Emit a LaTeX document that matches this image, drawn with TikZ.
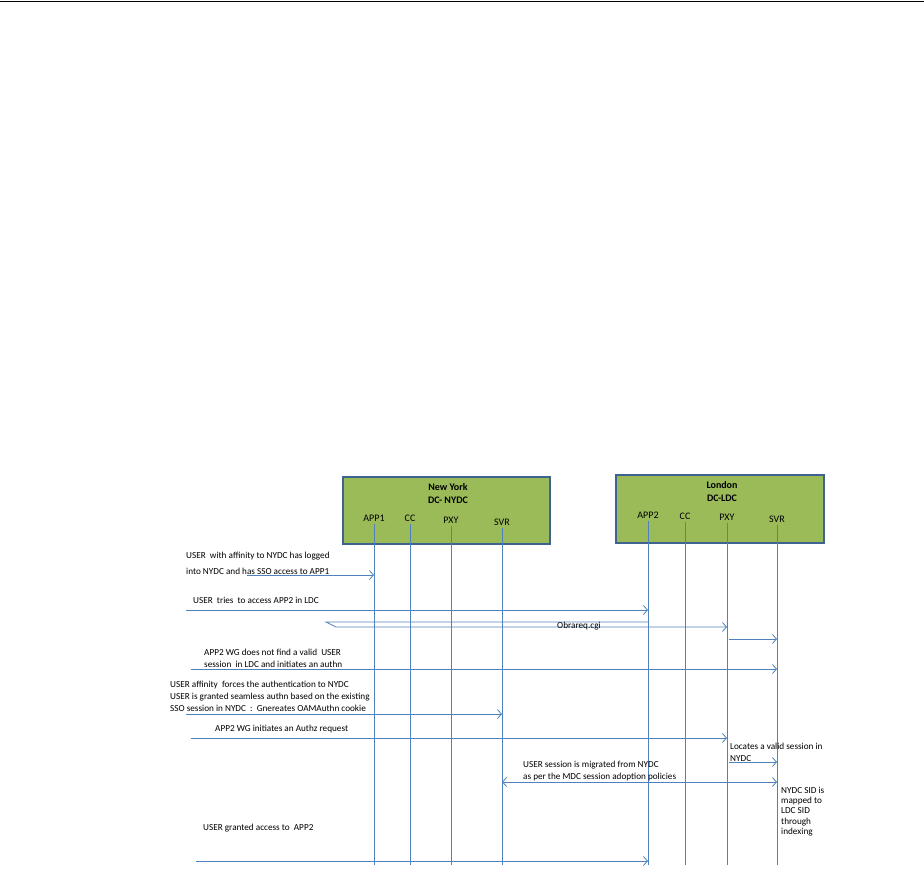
\documentclass[tikz,border=0pt]{standalone}
\usepackage{fontspec}
\setmainfont{Carlito}
\usepackage{tikz}
\usetikzlibrary{arrows.meta,positioning}
\definecolor{flowBlue}{HTML}{4F81BD}
\definecolor{siteGreen}{HTML}{9BBB59}
\definecolor{siteBorder}{HTML}{3F6390}

\begin{document}
\begin{tikzpicture}[x=1pt,y=-1pt,
    note/.style={anchor=west, align=left, inner sep=0pt, font=\fontsize{9.2}{12}\selectfont},
    msg/.style={draw=flowBlue, line width=0.8pt, -{Straight Barb[length=4pt,width=9pt]}},
    life/.style={draw=flowBlue, line width=0.8pt},
    site/.style={draw=siteBorder, line width=1.8pt, fill=siteGreen},
    comp/.style={inner sep=2.5pt, font=\fontsize{10}{12}\selectfont}]
                \useasboundingbox (0,0) rectangle (924,874);
                % page rule
                \coordinate (ruleL) at (0,1.5);
                \coordinate (ruleR) at (924,1.5);
                \draw[line width=1.3pt] (ruleL) -- (ruleR);
                % data centres
                \node[site, minimum width=207pt, minimum height=67pt] (nyBox) at (446.5,510.5) {};
                \node[site, minimum width=208pt, minimum height=68pt] (ldnBox) at (720,509) {};
                \node[font=\bfseries\fontsize{10}{13}\selectfont, align=center] (nyTitle) at (448,493.5) {New York\\DC- NYDC};
                \node[font=\bfseries\fontsize{10}{13}\selectfont, align=center] (ldnTitle) at (722,491.5) {London\\DC-LDC};
                \node[comp] (app1) at (374,518) {APP1};
                \node[comp] (ccN) at (410,518) {CC};
                \node[comp] (pxyN) at (451,520) {PXY};
                \node[comp] (svrN) at (502,522) {SVR};
                \node[comp] (app2) at (648,515) {APP2};
                \node[comp] (ccL) at (685,516) {CC};
                \node[comp] (pxyL) at (727,517) {PXY};
                \node[comp] (svrL) at (777,519) {SVR};
                % lifelines
                \coordinate (bottomLine) at (0,865);
                \foreach \n in {app1,ccN,pxyN,svrN,app2,ccL,pxyL,svrL} {
                    \coordinate (\n End) at (\n |- bottomLine);
                    \draw[life] (\n) -- (\n End);
                }
                % messages
                \node[note] (loginText) at (186,563.5) {USER\ \ with affinity to NYDC has logged\\[4pt]into NYDC and has SSO access to APP1};
                \coordinate (loginStart) at (247,575);
                \draw[msg] (loginStart) -- (loginStart -| app1);

                \node[note] (triesText) at (193,600) {USER\ \ tries\ \ to access APP2 in LDC};
                \coordinate (triesStart) at (186,610);
                \draw[msg] (triesStart) -- (triesStart -| app2);

                \coordinate (cgiTurn) at (326,622);
                \coordinate (cgiBack) at (336,627);
                \draw[msg] (cgiTurn -| app2) -- (cgiTurn) -- (cgiBack) -- (cgiBack -| pxyL);
                \node[note] (cgiText) at (557,626) {Obrareq.cgi};

                \coordinate (pxyHop) at (729,639);
                \draw[msg] (pxyHop) -- (pxyHop -| svrL);

                \node[note] (authnText) at (204,658) {APP2 WG does not find a valid\ \ USER\\session\ \ in LDC and initiates an authn};
                \coordinate (authnStart) at (191,669);
                \draw[msg] (authnStart) -- (authnStart -| svrL);

                \node[note] (affinityText) at (170,696) {USER affinity\ \ forces the authentication to NYDC\\USER is granted seamless authn based on the existing\\SSO session in NYDC\ \ :\ \ Gnereates OAMAuthn cookie};
                \coordinate (affinityStart) at (186,714);
                \draw[msg] (affinityStart) -- (affinityStart -| svrN);

                \node[note] (authzText) at (215,729) {APP2 WG initiates an Authz request};
                \coordinate (authzStart) at (191,738);
                \draw[msg] (authzStart) -- (authzStart -| pxyL);

                \node[note] (locateText) at (730,752) {Locates a valid session in\\NYDC};
                \coordinate (locateStart) at (729,762);
                \draw[msg] (locateStart) -- (locateStart -| svrL);

                \node[note] (migrateText) at (523,771) {USER session is migrated from NYDC\\as per the MDC session adoption policies};
                \coordinate (migrateLine) at (0,782);
                \draw[msg, {Straight Barb[length=4pt,width=9pt]}-{Straight Barb[length=4pt,width=9pt]}] (migrateLine -| svrN) -- (migrateLine -| svrL);

                \node[note, font=\fontsize{9.2}{10.4}\selectfont] (sidText) at (781,811.5) {NYDC SID is\\mapped to\\LDC SID\\through\\indexing};

                \node[note] (grantText) at (203,828) {USER granted access to\ \ APP2};
                \coordinate (grantStart) at (196,861);
                \draw[msg] (grantStart) -- (grantStart -| app2);
            \end{tikzpicture}
\end{document}
